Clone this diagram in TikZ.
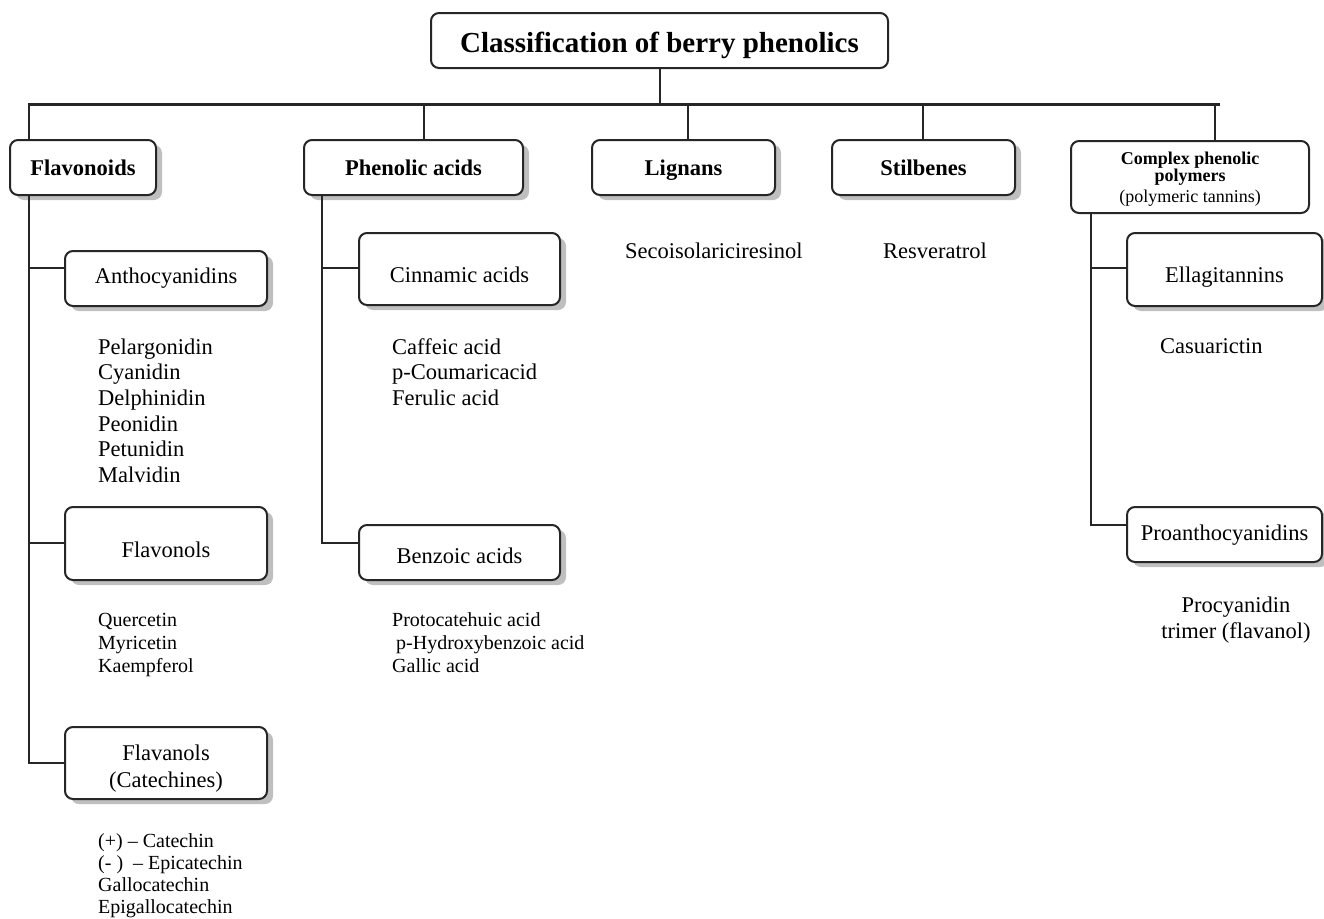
\documentclass[tikz,border=0pt]{standalone}
\usepackage{fontspec}
\setmainfont{Liberation Serif}
\usetikzlibrary{shadows}
\tikzset{
  box/.style   = {rectangle, draw=black!85, line width=2pt, rounded corners=8pt,
                  fill=white, align=center, inner sep=2pt},
  shbox/.style = {box, drop shadow={shadow xshift=6pt, shadow yshift=-5pt,
                  fill=black!25, opacity=1}},
  cat/.style   = {shbox, font=\fontsize{22.5}{27}\selectfont\bfseries,
                  text height=16pt, text depth=1pt},
  sub/.style   = {shbox, font=\fontsize{22.5}{27}\selectfont},
  tx/.style 2 args = {text height=#1, text depth=#2},
  link/.style  = {draw=black!85, line width=2pt},
  bus/.style   = {draw=black!85, line width=3pt},
  lst/.style   = {anchor=base west, align=left, inner sep=0pt},
  big/.style   = {font=\fontsize{22.5}{25.7}\selectfont},
  small/.style = {font=\fontsize{20}{23}\selectfont},
}

\begin{document}
\begin{tikzpicture}[x=1pt, y=-1pt]
  \useasboundingbox (0,0) rectangle (1324,918);

  \node[box, minimum width=457pt, minimum height=55pt, tx={23pt}{0pt},
        font=\fontsize{29}{34}\selectfont\bfseries] (root) at (659.5,40.5)
        {Classification of berry phenolics};

  \node[cat, minimum width=146pt, minimum height=55pt] (fla) at (83,167.5)    {Flavonoids};
  \node[cat, minimum width=219pt, minimum height=55pt] (phe) at (413.5,167.5) {Phenolic acids};
  \node[cat, minimum width=183pt, minimum height=55pt] (lig) at (683.5,167.5) {Lignans};
  \node[cat, minimum width=183pt, minimum height=55pt] (sti) at (923.5,167.5) {Stilbenes};
  \node[box, minimum width=238pt, minimum height=72pt, tx={50pt}{0pt},
        font=\fontsize{18}{17}\selectfont] (cpx) at (1190,177)
        {\textbf{Complex phenolic}\\\textbf{polymers}\\[4pt](polymeric tannins)};

  \node[sub, minimum width=202pt, minimum height=55pt, tx={15.5pt}{6.5pt}] (ant) at (166,278.5) {Anthocyanidins};
  \node[sub, minimum width=202pt, minimum height=73pt, tx={27pt}{0pt}] (flo) at (166,543.5)     {Flavonols};
  \node[sub, minimum width=202pt, minimum height=72pt, tx={48pt}{0pt}] (fln) at (166,763)       {Flavanols\\(Catechines)};
  \node[sub, minimum width=201pt, minimum height=72pt, tx={26pt}{0pt}] (cin) at (459.5,269)     {Cinnamic acids};
  \node[sub, minimum width=201pt, minimum height=55pt, tx={21pt}{0pt}] (ben) at (459.5,552.5)   {Benzoic acids};
  \node[sub, minimum width=195pt, minimum height=73pt, tx={25pt}{0pt}] (ell) at (1224.5,269.5)  {Ellagitannins};
  \node[sub, minimum width=195pt, minimum height=55pt, tx={16pt}{5pt}] (pro) at (1224.5,534.5)  {Proanthocyanidins};

  % lists: base anchor sits on the last line
  \node[lst, big] (antl) at (98,482.5)
        {Pelargonidin\\Cyanidin\\Delphinidin\\Peonidin\\Petunidin\\Malvidin};
  \node[lst, small] (flol) at (98,672) {Quercetin\\Myricetin\\Kaempferol};
  \node[lst, font=\fontsize{20}{22}\selectfont] (flnl) at (98,913)
        {(+) -- Catechin\\(-~)~~-- Epicatechin\\Gallocatechin\\Epigallocatechin};
  \node[lst, font=\fontsize{22.5}{25.5}\selectfont] (cinl) at (392,405)
        {Caffeic acid\\p-Coumaricacid\\Ferulic acid};
  \node[lst, small] (benl) at (392,672)
        {Protocatehuic acid\\\hspace*{4pt}p-Hydroxybenzoic acid\\Gallic acid};
  \node[lst, big] (ligl) at (625,258)  {Secoisolariciresinol};
  \node[lst, big] (stil) at (883,258)  {Resveratrol};
  \node[lst, big] (elll) at (1160,353) {Casuarictin};
  \node[font=\fontsize{22.5}{26}\selectfont, align=center, anchor=base, inner sep=0pt]
        (prol) at (1236,638) {Procyanidin\\trimer (flavanol)};

  \coordinate (b1) at (29,104);
  \coordinate (b2) at (424,104);
  \coordinate (b3) at (688,104);
  \coordinate (b4) at (923,104);
  \coordinate (b5) at (1215,104);
  \coordinate (bE) at (1220,104);
  \draw[bus] ([xshift=-1pt]b1) -- (bE);
  \draw[link] (root) -- (root |- b1);
  \foreach \b/\n in {b1/fla, b2/phe, b3/lig, b4/sti, b5/cpx}
    \draw[link] (\b) -- (\b |- \n.north);

  \coordinate (j1) at (29,268);
  \coordinate (j2) at (29,543);
  \coordinate (j3) at (29,763);
  \draw[link] (fla.south -| j1) -- (j3) -- (j3 -| fln.west);
  \draw[link] (j1) -- (j1 -| ant.west);
  \draw[link] (j2) -- (j2 -| flo.west);

  \coordinate (k1) at (322,268);
  \coordinate (k2) at (322,543);
  \draw[link] (phe.south -| k1) -- (k2) -- (k2 -| ben.west);
  \draw[link] (k1) -- (k1 -| cin.west);

  \coordinate (m1) at (1091,268);
  \coordinate (m2) at (1091,525);
  \draw[link] (cpx.south -| m1) -- (m2) -- (m2 -| pro.west);
  \draw[link] (m1) -- (m1 -| ell.west);
\end{tikzpicture}
\end{document}
